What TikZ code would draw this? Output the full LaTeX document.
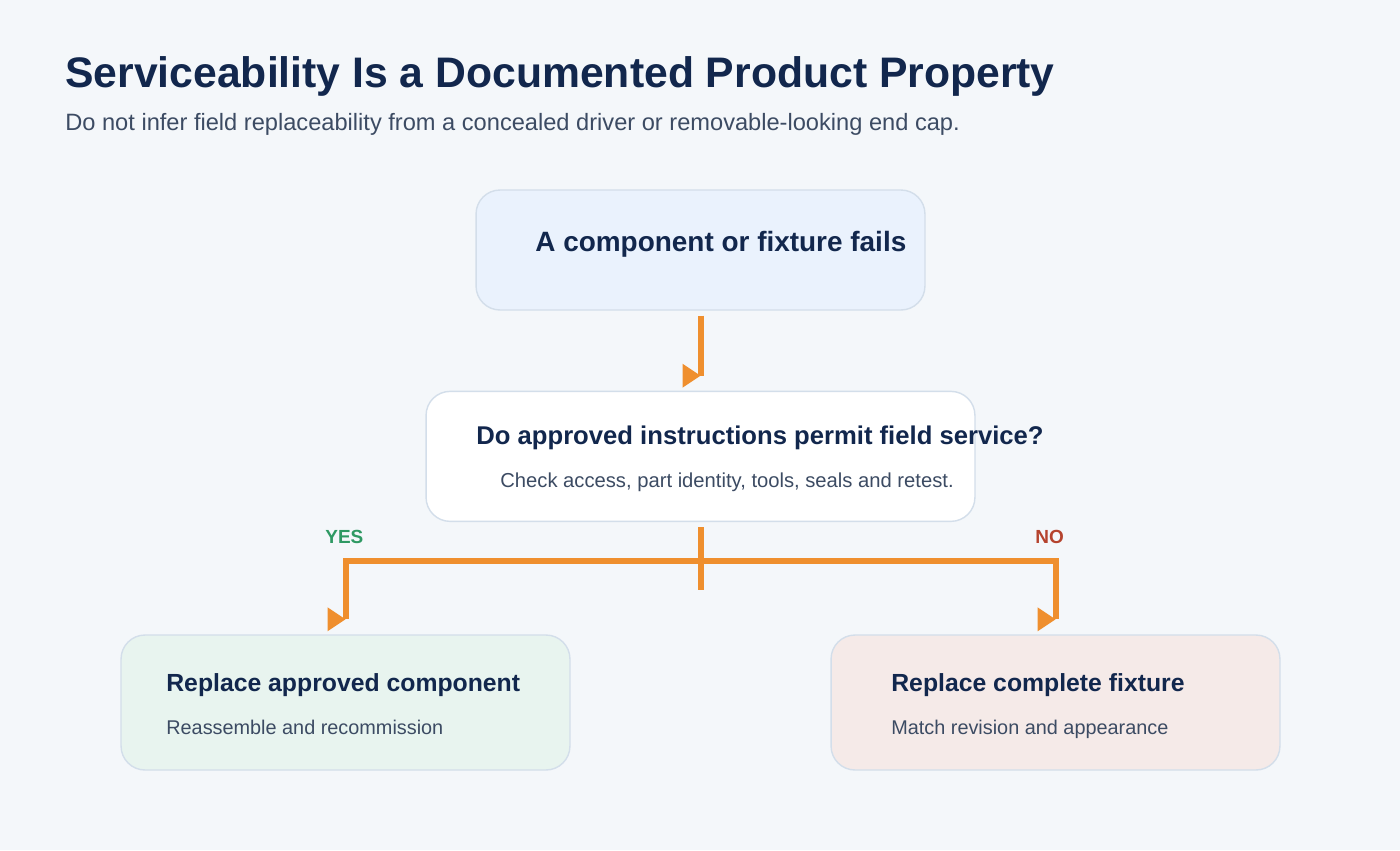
\documentclass[tikz,border=0pt]{standalone}
\usepackage{fontspec}
\setmainfont{Liberation Sans}
\usepackage{xcolor}
\definecolor{PageBg}{HTML}{F4F7FA}
\definecolor{InkNavy}{HTML}{12274D}
\definecolor{InkSlate}{HTML}{3C4B63}
\definecolor{EdgeGray}{HTML}{D3DEEA}
\definecolor{FlowOrange}{HTML}{EF8F2E}
\definecolor{SoftBlue}{HTML}{EAF2FD}
\definecolor{SoftGreen}{HTML}{E8F4EF}
\definecolor{SoftRed}{HTML}{F5EAE8}
\definecolor{YesGreen}{HTML}{2E9963}
\definecolor{NoRed}{HTML}{B5432E}
\usepackage{tikz}
\usetikzlibrary{positioning,calc}

\begin{document}
\begin{tikzpicture}[
  x=0.02cm, y=-0.02cm,
  box/.style={draw=EdgeGray,line width=0.8pt,rounded corners=0.48cm,minimum width=8.98cm},
  txt/.style={anchor=base west,inner sep=0pt},
  head/.style={txt,text=InkNavy,font=\fontsize{24.3}{29}\selectfont\bfseries},
  lead/.style={txt,text=InkSlate,font=\fontsize{13.45}{16}\selectfont},
  btitle/.style={txt,text=InkNavy,font=\fontsize{14.1}{17}\selectfont\bfseries},
  bnote/.style={txt,text=InkSlate,font=\fontsize{11.3}{14}\selectfont},
  tag/.style={txt,font=\fontsize{10.8}{13}\selectfont\bfseries},
  flow/.style={line width=0.12cm,FlowOrange,line join=miter},
  tip/.pic={\fill[FlowOrange] (0,0) -- (-18,-12) -- (-18,12) -- cycle;}
]
  \fill[PageBg] (0,0) rectangle (1400,850);

  \node[head] (ttl) at (65,87) {Serviceability Is a Documented Product Property};
  \node[lead] (sub) at (65,130) {Do not infer field replaceability from a concealed driver or removable-looking end cap.};

  % boxes
  \node[box,fill=SoftBlue,minimum height=2.4cm] (fail) at (700.5,250) {};
  \node[box,fill=white,minimum width=10.98cm,minimum height=2.6cm,below=1.6cm of fail] (ask) {};
  \node[box,fill=SoftGreen,minimum height=2.7cm] (yes) at (345.5,702.5) {};
  \node[box,fill=SoftRed,minimum height=2.7cm] (no) at (1055.5,702.5) {};

  % box texts
  \node[btitle,font=\fontsize{15.9}{19}\selectfont\bfseries] (failtxt) at (535,251) {A component or fixture fails};
  \node[btitle,font=\fontsize{14.6}{18}\selectfont\bfseries] (asktxt) at (476,444) {Do approved instructions permit field service?};
  \node[bnote,font=\fontsize{11.5}{14}\selectfont] (asknote) at (500,487) {Check access, part identity, tools, seals and retest.};
  \node[btitle] (yestxt) at (166,691) {Replace approved component};
  \node[bnote] (yesnote) at (166,734) {Reassemble and recommission};
  \node[btitle] (notxt) at (891,691) {Replace complete fixture};
  \node[bnote] (nonote) at (891,734) {Match revision and appearance};

  % connectors
  \draw[flow] ([yshift=-0.1cm]fail.south) -- ([yshift=0.3cm]ask.north) coordinate (t1);
  \pic at (t1) {tip};
  \coordinate (hub) at (700.5,561);
  \draw[flow] ([yshift=-0.1cm]ask.south) -- ([yshift=-0.58cm]hub);
  \draw[flow] (hub) -| ([yshift=0.3cm]yes.north) coordinate (t2);
  \draw[flow] (hub) -| ([yshift=0.3cm]no.north) coordinate (t3);
  \pic at (t2) {tip};
  \pic at (t3) {tip};

  \node[tag,text=YesGreen] (yeslbl) at (325,543) {YES};
  \node[tag,text=NoRed] (nolbl) at (1035,543) {NO};
\end{tikzpicture}
\end{document}
